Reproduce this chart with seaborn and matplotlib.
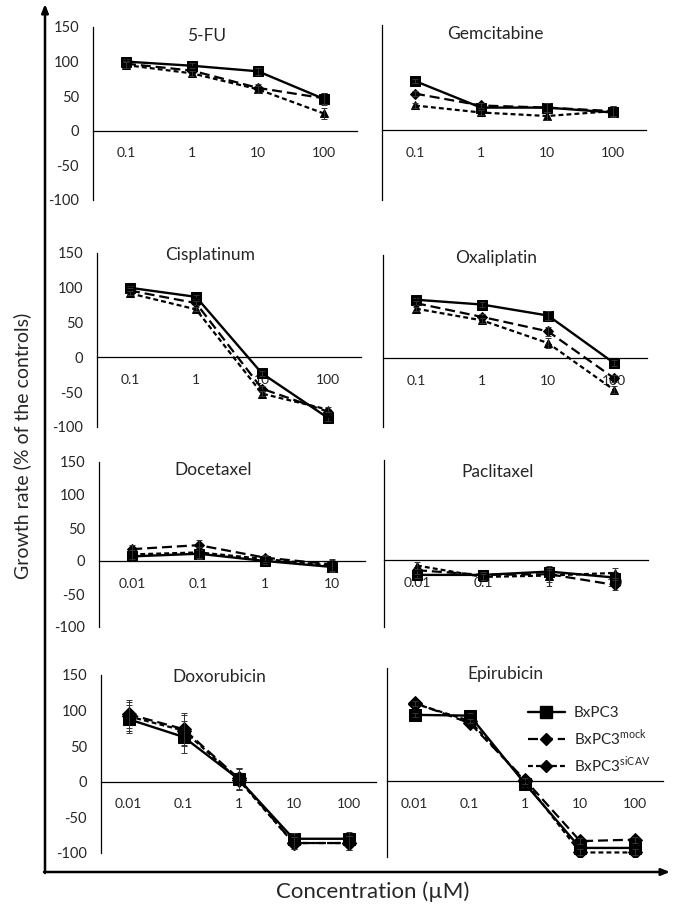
import matplotlib
matplotlib.use("Agg")
import matplotlib.pyplot as plt
import seaborn as sns
from matplotlib.lines import Line2D

sns.set_style("white")
plt.rcParams["font.family"] = ["Lato", "DejaVu Sans"]
plt.rcParams["mathtext.fontset"] = "custom"
plt.rcParams["mathtext.rm"] = "Lato"

# concentrations (uM) shown on each row
conc_a = ["0.1", "1", "10", "100"]
conc_b = ["0.01", "0.1", "1", "10"]
conc_c = ["0.01", "0.1", "1", "10", "100"]

series = ["BxPC3", "BxPC3mock", "BxPC3siCAV"]

# growth rate (% of controls)
fu5 = {"BxPC3": [100, 94, 86, 46], "BxPC3mock": [97, 87, 62, 47], "BxPC3siCAV": [95, 83, 60, 25]}
fu5_err = [4, 4, 5, 8]
gem = {"BxPC3": [70, 32, 32, 25], "BxPC3mock": [52, 35, 32, 27], "BxPC3siCAV": [35, 25, 20, 27]}
gem_err = [3, 3, 6, 7]
cis = {"BxPC3": [100, 87, -23, -87], "BxPC3mock": [96, 78, -45, -78], "BxPC3siCAV": [92, 69, -52, -75]}
cis_err = [3, 3, 4, 4]
oxa = {"BxPC3": [85, 78, 62, -7], "BxPC3mock": [80, 60, 39, -29], "BxPC3siCAV": [72, 55, 22, -46]}
oxa_err = [3, 4, 7, 5]
doc = {"BxPC3": [7, 11, 0, -9], "BxPC3mock": [18, 24, 5, -5], "BxPC3siCAV": [10, 13, 3, -7]}
doc_err = [7, 8, 4, 8]
pac = {"BxPC3": [-22, -22, -17, -26], "BxPC3mock": [-15, -22, -21, -37], "BxPC3siCAV": [-8, -25, -23, -19]}
pac_err = [5, 4, 9, 8]
dox = {"BxPC3": [88, 63, 4, -80, -80], "BxPC3mock": [95, 74, 5, -86, -86], "BxPC3siCAV": [92, 72, 3, -86, -86]}
dox_err = [20, 22, 15, 8, 10]
epi = {"BxPC3": [88, 87, -3, -88, -88], "BxPC3mock": [104, 77, 2, -79, -77], "BxPC3siCAV": [103, 80, 0, -94, -94]}
epi_err = [3, 3, 4, 4, 4]

W, H = 677, 908
fig = plt.figure(figsize=(W / 100, H / 100), dpi=100)


def px_axes(x0, x1, ytop, ybot):
    return fig.add_axes([x0 / W, 1 - ybot / H, (x1 - x0) / W, (ybot - ytop) / H])


styles = {
    "BxPC3": dict(marker="s", linestyle="-", lw=1.7),
    "BxPC3mock": dict(marker="D", dashes=(4.5, 2.2), lw=1.6),
    "BxPC3siCAV": dict(marker="^", dashes=(2.2, 1.4), lw=1.6),
}


def panel(box, title, cats, data, err, ylabels, title_y=0.97, bottom_row=False):
    ax = px_axes(*box)
    pos = list(range(len(cats)))
    for s in series:
        st = dict(styles[s])
        if bottom_row and s == "BxPC3siCAV":
            st["marker"] = "D"
        ms = 7 if st["marker"] == "s" else 5.5
        if bottom_row:
            ms += 1.5
        sns.lineplot(x=pos, y=data[s], ax=ax, color="black", markersize=ms,
                     markeredgecolor="black", errorbar=None, **st)
        ax.errorbar(pos, data[s], yerr=err, fmt="none", ecolor="#333333",
                    elinewidth=0.7, capsize=2.2, capthick=0.7)
    ax.set_xlim(-0.5, len(cats) - 0.5)
    ax.set_ylim(-100, 150)
    ax.set_yticks([-100, -50, 0, 50, 100, 150])
    ax.set_xticks(pos)
    ax.set_xticklabels(cats, fontsize=11)
    if ylabels:
        ax.set_yticklabels([str(v) for v in [-100, -50, 0, 50, 100, 150]], fontsize=10.5)
    else:
        ax.set_yticklabels([])
    ax.tick_params(axis="both", length=0)
    ax.tick_params(axis="y", pad=10)
    ax.tick_params(axis="x", pad=12)
    for side in ["top", "right"]:
        ax.spines[side].set_visible(False)
    ax.spines["bottom"].set_position(("data", 0))
    for side in ["left", "bottom"]:
        ax.spines[side].set_color("black")
        ax.spines[side].set_linewidth(0.9)
    if bottom_row:
        ax.set_xticks([p + 0.5 for p in pos], minor=True)
        ax.tick_params(axis="x", which="minor", length=4, width=0.9, direction="out", color="black")
    ax.text(0.43, title_y, title, transform=ax.transAxes, ha="center", va="center", fontsize=12.5)
    ax.patch.set_alpha(0)
    ax.grid(False)
    return ax


panel((93, 357, 27, 200), "5-FU", conc_a, fu5, fu5_err, True, title_y=0.95)
panel((382, 646, 25, 200), "Gemcitabine", conc_a, gem, gem_err, False, title_y=0.95)
panel((97, 361, 253, 427), "Cisplatinum", conc_a, cis, cis_err, True, title_y=0.99)
panel((383, 647, 255, 427), "Oxaliplatin", conc_a, oxa, oxa_err, False, title_y=0.98)
panel((99, 365, 462, 627), "Docetaxel", conc_b, doc, doc_err, True, title_y=0.95)
panel((384, 648, 460, 627), "Paclitaxel", conc_b, pac, pac_err, False, title_y=0.93)
panel((101, 376, 675, 853), "Doxorubicin", conc_c, dox, dox_err, True, title_y=0.99, bottom_row=True)
panel((387, 663, 668, 857), "Epirubicin", conc_c, epi, epi_err, False, title_y=0.97, bottom_row=True)

handles = [
    Line2D([], [], color="black", marker="s", linestyle="-", lw=1.7, markersize=8),
    Line2D([], [], color="black", marker="D", dashes=(4.5, 2.2), lw=1.6, markersize=6),
    Line2D([], [], color="black", marker="D", dashes=(2.2, 1.4), lw=1.6, markersize=6),
]
labels = ["BxPC3", r"BxPC3$^{\mathrm{mock}}$", r"BxPC3$^{\mathrm{siCAV}}$"]
fig.legend(handles, labels, loc="upper left", bbox_to_anchor=(522 / W, 1 - 700 / H),
           frameon=False, fontsize=11, handlelength=2.4, handletextpad=0.6,
           labelspacing=0.45, borderaxespad=0)

# outer arrow axes
frame = fig.add_axes([0, 0, 1, 1])
frame.set_xlim(0, W)
frame.set_ylim(H, 0)
frame.axis("off")
frame.patch.set_alpha(0)
arrow = dict(arrowstyle="-|>,head_length=0.5,head_width=0.2", color="black", lw=1.8,
             shrinkA=0, shrinkB=0)
frame.annotate("", xy=(45, 4), xytext=(45, 873), arrowprops=arrow)
frame.annotate("", xy=(670, 872), xytext=(44, 872), arrowprops=arrow)

fig.text(22 / W, 1 - 446 / H, "Growth rate (% of the controls)", rotation=90,
         ha="center", va="center", fontsize=14)
fig.text(373 / W, 1 - 892 / H, "Concentration (\u00b5M)", ha="center", va="center",
         fontsize=16)

fig.savefig("out.png", dpi=100)
